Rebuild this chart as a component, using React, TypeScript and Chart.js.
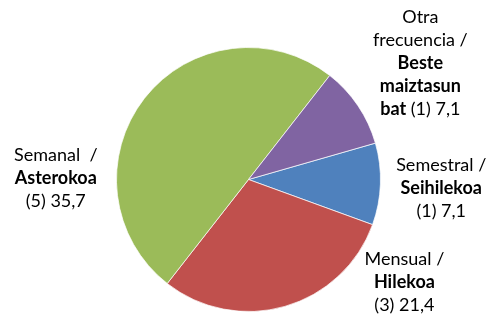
import React, { useEffect, useRef } from "react";
import { Chart, registerables } from "chart.js";

Chart.register(...registerables);

// ---- data ----
const categoriesEs = ["Semestral /", "Mensual /", "Semanal  /", "Otra\nfrecuencia /"];
const categoriesEu = ["Seihilekoa", "Hilekoa", "Asterokoa", "Beste\nmaiztasun\nbat"];
const counts = [1, 3, 5, 1];
const percents = [7.1, 21.4, 35.7, 7.1];

// ---- style / layout ----
const colors = ["#4F81BD", "#C0504D", "#9BBB59", "#8064A2"];
const valueInline = [false, false, false, true];
// label block centres relative to pie centre, in units of the radius
const labelOffsets = [
  [1.46, 0.064],
  [1.181, 0.781],
  [-1.46, -0.011],
  [1.302, -0.879],
];
const FONT_FAMILY = "Lato, 'Open Sans', sans-serif";
const FONT_SIZE = 18;
const LINE_HEIGHT = 23;

type Run = { text: string; bold: boolean };

function buildLines(i: number): Run[][] {
  const lines: Run[][] = [];
  categoriesEs[i].split("\n").forEach((t) => lines.push([{ text: t, bold: false }]));
  const eu = categoriesEu[i].split("\n");
  eu.forEach((t) => lines.push([{ text: t, bold: true }]));
  const val = `(${counts[i]}) ${percents[i].toFixed(1).replace(".", ",")}`;
  if (valueInline[i]) {
    lines[lines.length - 1].push({ text: " " + val, bold: false });
  } else {
    lines.push([{ text: val, bold: false }]);
  }
  return lines;
}

const labelPlugin = {
  id: "pieLabels",
  afterDatasetsDraw(chart: any) {
    const meta = chart.getDatasetMeta(0);
    const ctx = chart.ctx as CanvasRenderingContext2D;
    ctx.save();
    ctx.fillStyle = "#000000";
    ctx.textBaseline = "middle";
    ctx.textAlign = "left";
    meta.data.forEach((arc: any, i: number) => {
      const { x, y, outerRadius } = arc.getProps(["x", "y", "outerRadius"], true);
      const cx = x + labelOffsets[i][0] * outerRadius;
      const cy = y + labelOffsets[i][1] * outerRadius;
      const lines = buildLines(i);
      const top = cy - ((lines.length - 1) * LINE_HEIGHT) / 2;
      lines.forEach((runs, li) => {
        let total = 0;
        const widths = runs.map((r) => {
          ctx.font = `${r.bold ? "bold " : ""}${FONT_SIZE}px ${FONT_FAMILY}`;
          const w = ctx.measureText(r.text).width;
          total += w;
          return w;
        });
        let px = cx - total / 2;
        runs.forEach((r, ri) => {
          ctx.font = `${r.bold ? "bold " : ""}${FONT_SIZE}px ${FONT_FAMILY}`;
          ctx.fillText(r.text, px, top + li * LINE_HEIGHT);
          px += widths[ri];
        });
      });
    });
    ctx.restore();
  },
};

export default function App() {
  const ref = useRef<HTMLCanvasElement | null>(null);
  useEffect(() => {
    if (!ref.current) return;
    const chart = new Chart(ref.current, {
      type: "pie",
      data: {
        labels: categoriesEs.map((s) => s.replace("\n", " ")),
        datasets: [
          {
            data: counts,
            backgroundColor: colors,
            borderColor: "rgba(255,255,255,0.7)",
            borderWidth: 1,
            hoverOffset: 0,
          },
        ],
      },
      options: {
        responsive: false,
        animation: false,
        rotation: 74,
        layout: { padding: { top: 47, bottom: 7, left: 116, right: 110 } },
        plugins: {
          legend: { display: false },
          tooltip: { enabled: false },
        },
      },
      plugins: [labelPlugin],
    });
    return () => chart.destroy();
  }, []);
  return (
    <div style={{ position: "fixed", left: 0, top: 0, width: 491, height: 319, background: "#fff" }}>
      <canvas ref={ref} width={491} height={319} style={{ display: "block", width: 491, height: 319 }} />
    </div>
  );
}
